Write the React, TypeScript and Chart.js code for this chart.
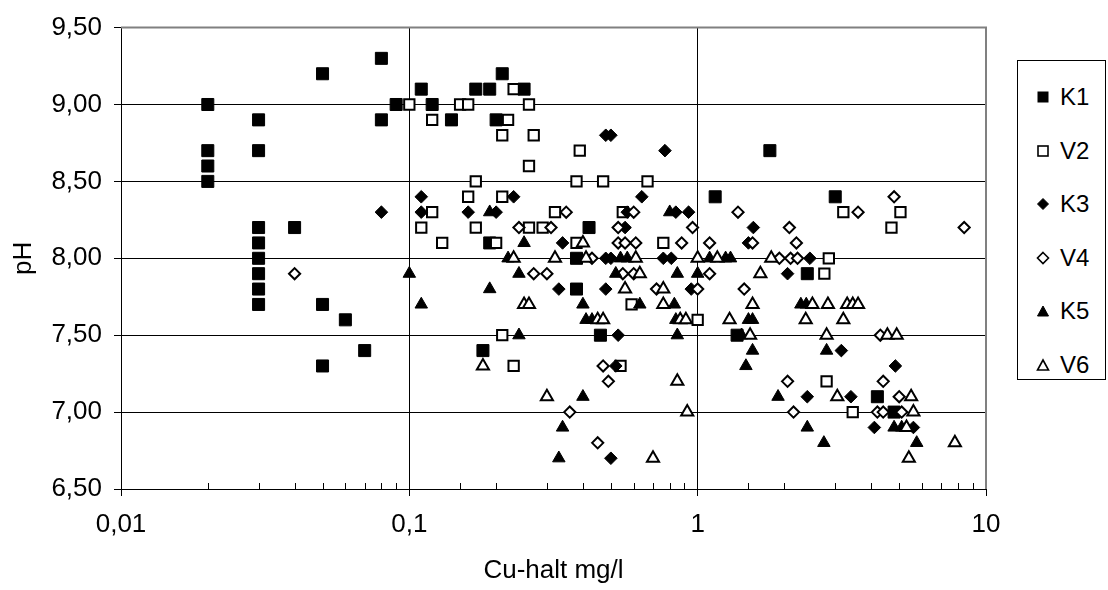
import React, { useEffect, useRef } from 'react';
import { Chart, registerables } from 'chart.js';

Chart.register(...registerables);

type Pt = [number, number];

// ---- data (Cu-halt mg/l, pH) ----
const K1: Pt[] = [
  [0.02, 9.0], [0.02, 8.7], [0.02, 8.6], [0.02, 8.5],
  [0.03, 8.9], [0.03, 8.7], [0.03, 8.2], [0.03, 8.1], [0.03, 8.0], [0.03, 7.9], [0.03, 7.8], [0.03, 7.7],
  [0.04, 8.2], [0.05, 9.2], [0.05, 7.7], [0.05, 7.3], [0.06, 7.6], [0.07, 7.4],
  [0.08, 9.3], [0.08, 8.9], [0.09, 9.0], [0.11, 9.1], [0.12, 9.0], [0.14, 8.9],
  [0.17, 9.1], [0.19, 9.1], [0.2, 8.9], [0.21, 9.2], [0.25, 9.1],
  [0.19, 8.1], [0.42, 8.2], [0.38, 8.0], [0.38, 7.8], [0.18, 7.4], [0.46, 7.5],
  [1.15, 8.4], [1.78, 8.7], [3.0, 8.4], [2.4, 7.9], [1.37, 7.5], [4.2, 7.1], [4.8, 7.0],
];
const V2: Pt[] = [
  [0.1, 9.0], [0.15, 9.0], [0.16, 9.0], [0.26, 9.0], [0.23, 9.1], [0.12, 8.9], [0.22, 8.9],
  [0.21, 8.8], [0.27, 8.8], [0.39, 8.7], [0.26, 8.6], [0.17, 8.5], [0.38, 8.5], [0.47, 8.5], [0.67, 8.5],
  [0.16, 8.4], [0.21, 8.4], [0.12, 8.3], [0.32, 8.3], [0.55, 8.3], [3.2, 8.3], [5.05, 8.3],
  [0.11, 8.2], [0.17, 8.2], [0.26, 8.2], [0.29, 8.2], [4.7, 8.2], [0.13, 8.1], [0.2, 8.1], [0.38, 8.1], [0.76, 8.1],
  [2.85, 8.0], [2.75, 7.9], [0.59, 7.7], [1.0, 7.6], [0.21, 7.5], [0.23, 7.3], [0.54, 7.3], [2.8, 7.2], [3.45, 7.0],
];
const K3: Pt[] = [
  [0.48, 8.8], [0.5, 8.8], [0.77, 8.7], [0.11, 8.4], [0.23, 8.4], [0.64, 8.4],
  [0.08, 8.3], [0.11, 8.3], [0.16, 8.3], [0.2, 8.3], [0.57, 8.3], [0.84, 8.3], [0.93, 8.3],
  [0.56, 8.2], [1.56, 8.2], [0.34, 8.1], [1.5, 8.1], [0.48, 8.0], [0.5, 8.0], [0.76, 8.0], [0.81, 8.0], [2.45, 8.0],
  [2.05, 7.9], [0.33, 7.8], [0.48, 7.8], [0.95, 7.8], [0.53, 7.5], [3.15, 7.4], [0.52, 7.3], [4.85, 7.3],
  [2.4, 7.1], [3.4, 7.1], [4.1, 6.9], [5.6, 6.9], [0.5, 6.7],
];
const V4: Pt[] = [
  [0.04, 7.9], [4.8, 8.4], [0.35, 8.3], [0.6, 8.3], [1.38, 8.3], [3.6, 8.3],
  [0.24, 8.2], [0.31, 8.2], [0.53, 8.2], [0.96, 8.2], [2.08, 8.2], [8.4, 8.2],
  [0.53, 8.1], [0.56, 8.1], [0.61, 8.1], [0.88, 8.1], [1.1, 8.1], [1.55, 8.1], [2.2, 8.1],
  [0.43, 8.0], [1.92, 8.0], [2.1, 8.0], [2.22, 8.0], [0.27, 7.9], [0.3, 7.9], [0.55, 7.9], [0.6, 7.9], [1.1, 7.9],
  [0.72, 7.8], [1.0, 7.8], [1.45, 7.8], [4.3, 7.5], [0.47, 7.3], [0.49, 7.2], [2.05, 7.2], [4.4, 7.2],
  [5.0, 7.1], [0.36, 7.0], [2.15, 7.0], [4.2, 7.0], [4.4, 7.0], [5.1, 7.0], [0.45, 6.8],
];
const K5: Pt[] = [
  [0.19, 8.3], [0.8, 8.3], [0.25, 8.1], [0.22, 8.0], [0.54, 8.0], [0.57, 8.0], [1.1, 8.0], [1.25, 8.0], [1.3, 8.0],
  [0.1, 7.9], [0.24, 7.9], [0.52, 7.9], [0.85, 7.9], [1.0, 7.9], [0.19, 7.8], [0.11, 7.7], [0.4, 7.7], [0.63, 7.7],
  [0.83, 7.7], [2.28, 7.7], [2.38, 7.7], [0.41, 7.6], [0.43, 7.6], [0.84, 7.6], [1.5, 7.6], [1.55, 7.6],
  [0.24, 7.5], [0.85, 7.5], [1.42, 7.5], [1.55, 7.4], [2.8, 7.4], [1.47, 7.3], [0.4, 7.1], [1.9, 7.1],
  [0.34, 6.9], [2.4, 6.9], [4.8, 6.9], [5.1, 6.9], [2.74, 6.8], [5.75, 6.8], [0.33, 6.7],
];
const V6: Pt[] = [
  [0.4, 8.1], [0.23, 8.0], [0.32, 8.0], [0.41, 8.0], [0.61, 8.0], [1.0, 8.0], [1.17, 8.0], [1.8, 8.0],
  [0.63, 7.9], [1.65, 7.9], [0.56, 7.8], [0.76, 7.8], [0.25, 7.7], [0.26, 7.7], [0.76, 7.7], [1.55, 7.7],
  [2.5, 7.7], [2.83, 7.7], [3.3, 7.7], [3.45, 7.7], [3.6, 7.7], [0.45, 7.6], [0.47, 7.6], [0.87, 7.6],
  [0.91, 7.6], [1.29, 7.6], [2.37, 7.6], [3.2, 7.6], [1.52, 7.5], [2.8, 7.5], [4.55, 7.5], [4.9, 7.5],
  [0.18, 7.3], [0.85, 7.2], [0.3, 7.1], [3.05, 7.1], [5.5, 7.1], [0.92, 7.0], [5.6, 7.0], [5.3, 6.9],
  [7.8, 6.8], [0.7, 6.7], [5.4, 6.7],
];

const SERIES_NAMES = ['K1', 'V2', 'K3', 'V4', 'K5', 'V6'];
const SERIES_DATA = [K1, V2, K3, V4, K5, V6];

const X_MIN = 0.01;
const X_MAX = 10;
const X_MAJOR_VALUES = [0.01, 0.1, 1, 10];
const X_TICK_LABELS = ['0,01', '0,1', '1', '10'];
const Y_MIN = 6.5;
const Y_MAX = 9.5;
const Y_STEP = 0.5;
const X_TITLE = 'Cu-halt mg/l';
const Y_TITLE = 'pH';

// ---- styles ----
const FONT = '"Liberation Sans", Arial, Helvetica, sans-serif';
const AXIS_FONT_SIZE = 26;
const LEGEND_FONT_SIZE = 24;
const W = 1108;
const H = 590;

const MARKERS = [
  { pointStyle: 'rect', radius: 8.5, fill: '#000', border: 1 },
  { pointStyle: 'rect', radius: 7.3, fill: '#fff', border: 2 },
  { pointStyle: 'rectRot', radius: 6.3, fill: '#000', border: 1 },
  { pointStyle: 'rectRot', radius: 5.6, fill: '#fff', border: 2 },
  { pointStyle: 'triangle', radius: 7.2, fill: '#000', border: 1 },
  { pointStyle: 'triangle', radius: 7.0, fill: '#fff', border: 2 },
];

const isMajor = (v: number) => {
  const l = Math.log10(v);
  return Math.abs(l - Math.round(l)) < 1e-6;
};

const plotDecor = {
  id: 'plotDecor',
  beforeDatasetsDraw(chart: any) {
    const { ctx, chartArea: a, scales } = chart;
    const xs = scales.x;
    ctx.save();
    ctx.strokeStyle = '#000';
    ctx.lineWidth = 1;
    xs.ticks.forEach((t: any) => {
      if (isMajor(t.value)) return;
      const px = Math.round(xs.getPixelForValue(t.value)) + 0.5;
      ctx.beginPath();
      ctx.moveTo(px, a.bottom);
      ctx.lineTo(px, a.bottom - 6);
      ctx.stroke();
    });
    ctx.strokeStyle = '#808080';
    ctx.lineWidth = 2;
    ctx.beginPath();
    ctx.moveTo(a.left, a.top);
    ctx.lineTo(a.right, a.top);
    ctx.lineTo(a.right, a.bottom);
    ctx.stroke();
    ctx.restore();
  },
};

function LegendMarker({ i }: { i: number }) {
  const filled = i % 2 === 0;
  const fill = filled ? '#000' : '#fff';
  const sw = filled ? 1 : 1.6;
  let shape: React.ReactNode = null;
  if (i < 2) shape = <rect x={2} y={2} width={10} height={10} fill={fill} stroke="#000" strokeWidth={sw} />;
  else if (i < 4) shape = <polygon points="7,1.5 12.5,7 7,12.5 1.5,7" fill={fill} stroke="#000" strokeWidth={sw} />;
  else shape = <polygon points="7,2 12.5,12 1.5,12" fill={fill} stroke="#000" strokeWidth={sw} />;
  return (
    <svg width={14} height={14} style={{ display: 'block' }}>
      {shape}
    </svg>
  );
}

export default function App() {
  const canvasRef = useRef<HTMLCanvasElement | null>(null);

  useEffect(() => {
    document.body.style.margin = '0';
    const canvas = canvasRef.current;
    if (!canvas) return;
    Chart.defaults.font.family = FONT;
    Chart.defaults.color = '#000';

    const datasets = SERIES_DATA.map((d, i) => ({
      label: SERIES_NAMES[i],
      data: d.map(([x, y]) => ({ x, y })),
      pointStyle: MARKERS[i].pointStyle as any,
      pointRadius: MARKERS[i].radius,
      pointHoverRadius: MARKERS[i].radius,
      pointBackgroundColor: MARKERS[i].fill,
      pointBorderColor: '#000',
      pointBorderWidth: MARKERS[i].border,
      showLine: false,
      order: SERIES_NAMES.length - i,
    }));

    const axisFont = { size: AXIS_FONT_SIZE, family: FONT };

    const chart = new Chart(canvas, {
      type: 'scatter',
      data: { datasets },
      plugins: [plotDecor],
      options: {
        animation: false,
        responsive: false,
        maintainAspectRatio: false,
        layout: { padding: { left: 0, right: 122, top: 21, bottom: 0 } },
        plugins: {
          legend: { display: false },
          tooltip: { enabled: false },
        },
        scales: {
          x: {
            type: 'logarithmic',
            min: X_MIN,
            max: X_MAX,
            afterFit: (s: any) => {
              s.height = 101;
            },
            border: { display: true, color: '#000', width: 1 },
            grid: {
              color: (c: any) =>
                c.tick && isMajor(c.tick.value) && c.tick.value < X_MAX ? '#000' : 'rgba(0,0,0,0)',
              tickColor: (c: any) => (c.tick && isMajor(c.tick.value) ? '#000' : 'rgba(0,0,0,0)'),
              tickLength: 7,
              lineWidth: 1,
            },
            ticks: {
              autoSkip: false,
              maxRotation: 0,
              padding: 13,
              font: axisFont,
              color: '#000',
              callback: (v: any) => {
                const n = Number(v);
                const idx = X_MAJOR_VALUES.findIndex((m) => Math.abs(m - n) / m < 1e-6);
                return idx >= 0 ? X_TICK_LABELS[idx] : '';
              },
            },
            title: {
              display: true,
              text: X_TITLE,
              font: axisFont,
              color: '#000',
              padding: { top: 0, bottom: 4 },
            },
          },
          y: {
            type: 'linear',
            min: Y_MIN,
            max: Y_MAX,
            afterFit: (s: any) => {
              s.width = 121;
            },
            border: { display: true, color: '#000', width: 1 },
            grid: {
              color: (c: any) => (c.tick && c.tick.value >= Y_MAX ? 'rgba(0,0,0,0)' : '#000'),
              tickColor: '#000',
              tickLength: 7,
              lineWidth: 1,
            },
            ticks: {
              stepSize: Y_STEP,
              padding: 12,
              font: axisFont,
              color: '#000',
              callback: (v: any) => Number(v).toFixed(2).replace('.', ','),
            },
            title: {
              display: true,
              text: Y_TITLE,
              font: axisFont,
              color: '#000',
              padding: { top: 8, bottom: 0 },
            },
          },
        },
      },
    });
    return () => chart.destroy();
  }, []);

  return (
    <div style={{ position: 'relative', width: W, height: H, background: '#fff', fontFamily: FONT }}>
      <canvas ref={canvasRef} width={W} height={H} style={{ display: 'block', width: W, height: H }} />
      <div
        style={{
          position: 'absolute',
          left: 1017,
          top: 60,
          width: 89,
          height: 320,
          border: '1px solid #000',
          boxSizing: 'border-box',
          background: '#fff',
        }}
      >
        {SERIES_NAMES.map((n, i) => (
          <div
            key={n}
            style={{
              position: 'absolute',
              left: 18,
              top: 36 + 53.6 * i - 14,
              height: 28,
              display: 'flex',
              alignItems: 'center',
            }}
          >
            <LegendMarker i={i} />
            <span
              style={{
                marginLeft: 10,
                fontSize: LEGEND_FONT_SIZE,
                fontFamily: FONT,
                color: '#000',
                lineHeight: '28px',
              }}
            >
              {n}
            </span>
          </div>
        ))}
      </div>
    </div>
  );
}
